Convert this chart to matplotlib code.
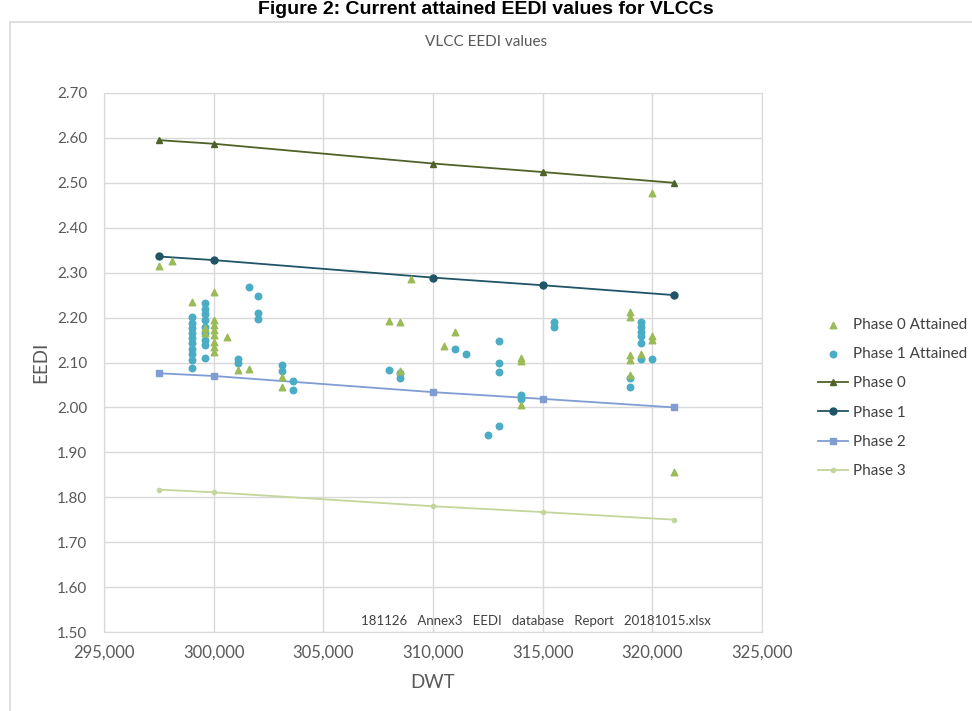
import matplotlib
matplotlib.use("Agg")
import matplotlib.pyplot as plt
from matplotlib.patches import Rectangle
from matplotlib.ticker import FuncFormatter, MultipleLocator

# reference lines (DWT points and EEDI values)
ref_dwt = [297500, 300000, 310000, 315000, 321000]
phase0 = [2.595, 2.587, 2.543, 2.524, 2.500]
phase1 = [2.336, 2.328, 2.289, 2.272, 2.250]
phase2 = [2.076, 2.070, 2.034, 2.019, 2.000]
phase3 = [1.817, 1.811, 1.780, 1.767, 1.750]

# attained values
p0_dwt = [297500, 298100, 300000, 299000,
          300000, 300000, 300000, 300000, 300000, 300000, 300000,
          299600, 299600, 300600, 301100, 301600, 303100, 303100,
          309000, 308000, 308500, 308500, 311000, 310500, 314000, 314000, 314000,
          320000, 319000, 319000, 320000, 320000, 319000, 319000, 319500, 319000, 321000]
p0_eedi = [2.315, 2.327, 2.257, 2.235,
           2.194, 2.183, 2.172, 2.161, 2.146, 2.135, 2.124,
           2.176, 2.165, 2.156, 2.083, 2.085, 2.068, 2.046,
           2.285, 2.192, 2.191, 2.080, 2.167, 2.137, 2.110, 2.103, 2.005,
           2.477, 2.213, 2.202, 2.158, 2.150, 2.116, 2.105, 2.118, 2.072, 1.857]

p1_dwt = [299000] * 10 + [299600] * 9 + [
          301600, 302000, 302000, 302000, 301100, 301100, 303100, 303100, 303600, 303600,
          311000, 311500, 308000, 308500, 308500, 313000, 313000, 313000,
          314000, 314000, 312500, 313000, 315500, 315500,
          319500, 319500, 319500, 319500, 319500, 319500, 320000, 319000, 319000]
p1_eedi = [2.202, 2.187, 2.176, 2.165, 2.154, 2.143, 2.131, 2.120, 2.105, 2.087,
           2.232, 2.220, 2.209, 2.194, 2.180, 2.165, 2.150, 2.139, 2.109,
           2.269, 2.248, 2.211, 2.196, 2.107, 2.099, 2.094, 2.081, 2.059, 2.039,
           2.129, 2.119, 2.083, 2.076, 2.065, 2.148, 2.099, 2.079,
           2.027, 2.018, 1.938, 1.958, 2.191, 2.178,
           2.191, 2.180, 2.169, 2.158, 2.144, 2.107, 2.107, 2.065, 2.046]

grey = "#595959"
font = "Lato"

fig = plt.figure(figsize=(9.72, 7.11), dpi=100)
fig.patches.append(Rectangle((10 / 972, -0.01), 1.0, 1 - 22 / 711 + 0.01,
                             transform=fig.transFigure, fill=False,
                             edgecolor="#D9D9D9", lw=1.2))
fig.text(0.5, 0.999, "Figure 2: Current attained EEDI values for VLCCs",
         ha="center", va="top", fontsize=14, fontweight="bold",
         family="Liberation Sans")

ax = fig.add_axes([104 / 972, 1 - 632 / 711, (762 - 104) / 972, (632 - 93) / 711])

ax.plot(ref_dwt, phase3, color="#C3D69B", lw=1.3, marker="o", ms=3, label="Phase 3", zorder=2)
ax.plot(ref_dwt, phase2, color="#7F9CD3", lw=1.3, marker="s", ms=5, label="Phase 2", zorder=2)
ax.plot(ref_dwt, phase1, color="#1F5566", lw=1.3, marker="o", ms=5, label="Phase 1", zorder=2)
ax.plot(ref_dwt, phase0, color="#4F6228", lw=1.3, marker="^", ms=5, label="Phase 0", zorder=2)
ax.scatter(p1_dwt, p1_eedi, s=22, marker="o", color="#4BACC6", label="Phase 1 Attained", zorder=3)
ax.scatter(p0_dwt, p0_eedi, s=22, marker="^", color="#9BBB59", label="Phase 0 Attained", zorder=4)

ax.set_xlim(295000, 325000)
ax.set_ylim(1.5, 2.7)
ax.xaxis.set_major_locator(MultipleLocator(5000))
ax.yaxis.set_major_locator(MultipleLocator(0.1))
ax.xaxis.set_major_formatter(FuncFormatter(lambda v, p: f"{v:,.0f}"))
ax.yaxis.set_major_formatter(FuncFormatter(lambda v, p: f"{v:.2f}"))
ax.grid(True, color="#D9D9D9", lw=1)
ax.set_axisbelow(True)
for s in ax.spines.values():
    s.set_color("#D9D9D9")
ax.tick_params(length=0, colors=grey)
ax.tick_params(axis="x", pad=9)
ax.tick_params(axis="y", pad=12)
for lab in ax.get_xticklabels():
    lab.set_fontsize(12)
    lab.set_family(font)
for lab in ax.get_yticklabels():
    lab.set_fontsize(11)
    lab.set_family(font)

ax.set_xlabel("DWT", fontsize=13.5, color=grey, family=font, labelpad=10)
ax.set_ylabel("EEDI", fontsize=13.5, color=grey, family=font, labelpad=6)
fig.text(0.5, 1 - 42 / 711, "VLCC EEDI values", ha="center", va="center",
         fontsize=11, color=grey, family=font)
ax.text(314700, 1.525, "181126   Annex3   EEDI   database   Report   20181015.xlsx",
        ha="center", va="center", fontsize=9.5, color="#404040", family=font)

handles, labels = ax.get_legend_handles_labels()
order = [5, 4, 3, 2, 1, 0]
leg = fig.legend([handles[i] for i in order], [labels[i] for i in order],
                 loc="center left", bbox_to_anchor=(804 / 972, 1 - 398 / 711),
                 frameon=False, prop={"family": font, "size": 11},
                 labelspacing=1.0, handlelength=2.0, handletextpad=0.3)
for t in leg.get_texts():
    t.set_color("#404040")

fig.savefig("out.png", dpi=100)
